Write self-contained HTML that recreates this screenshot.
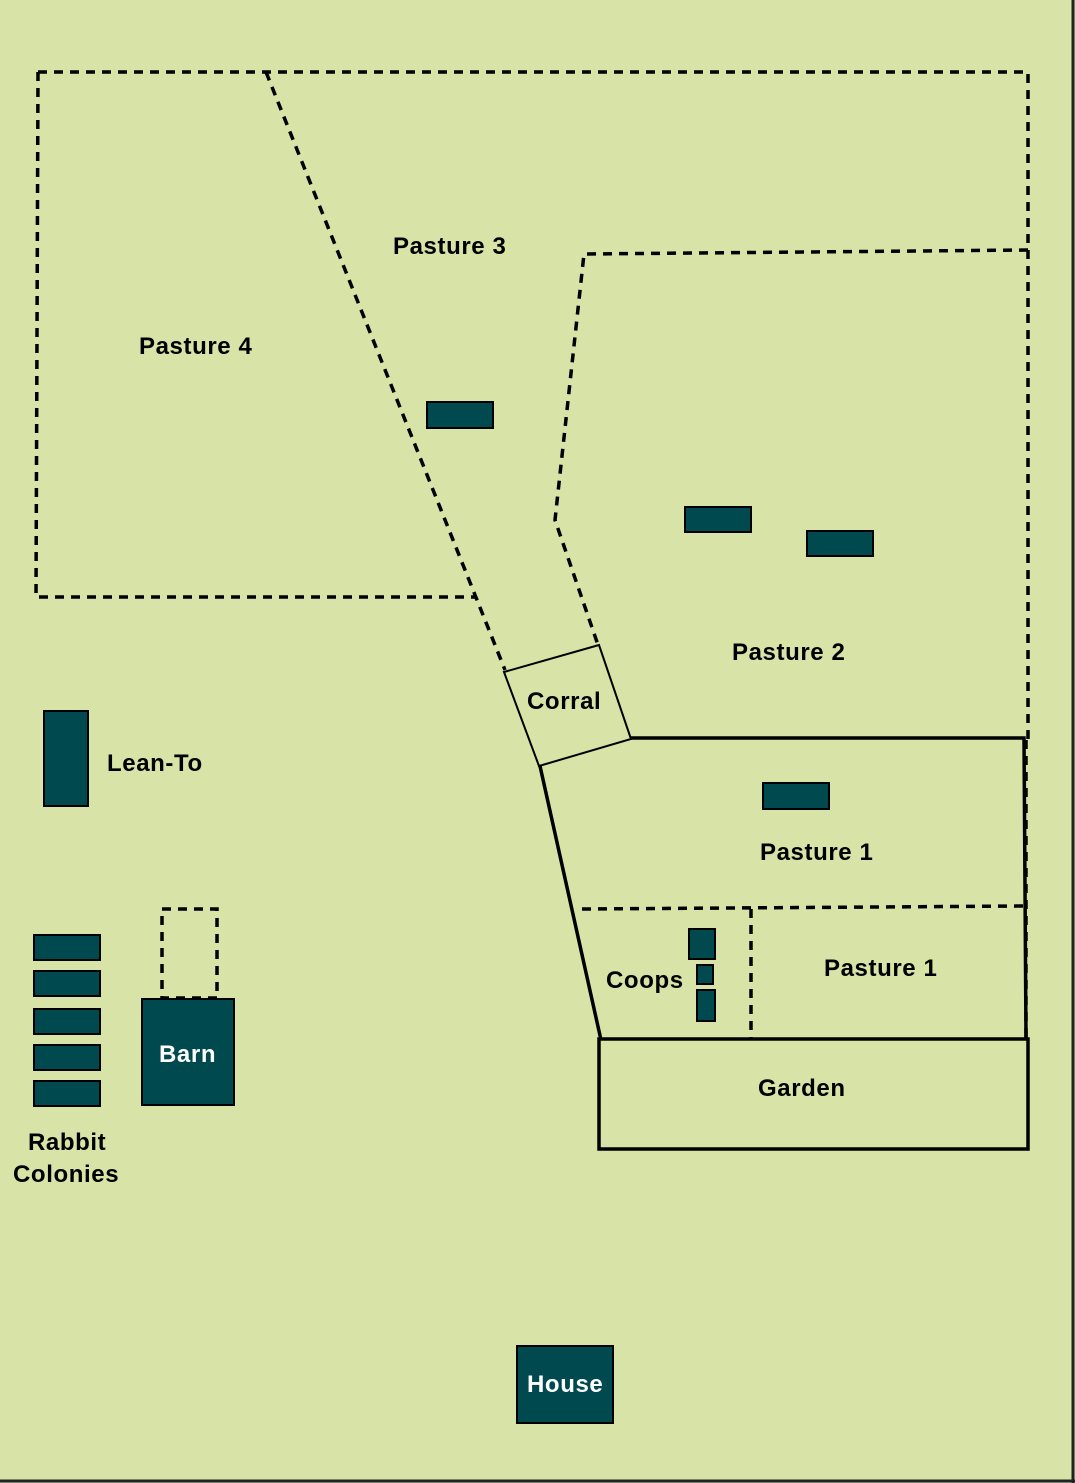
<!DOCTYPE html>
<html><head><meta charset="utf-8"><style>
html,body{margin:0;padding:0;background:#d7e3a7;}
svg{display:block}
text{font-family:"Liberation Sans",Arial,sans-serif;font-weight:bold;font-size:24px;letter-spacing:0.6px;fill:#000}
</style></head><body>
<svg width="1075" height="1483" viewBox="0 0 1075 1483" xmlns="http://www.w3.org/2000/svg">
<rect x="0" y="0" width="1075" height="1483" fill="#d7e3a7"/>
<line x1="1073" y1="0" x2="1073" y2="1483" stroke="#222" stroke-width="3"/>
<line x1="0" y1="1481" x2="1075" y2="1481" stroke="#222" stroke-width="3"/>
<g fill="none" stroke="#000" stroke-width="3.5" stroke-dasharray="9,7">
<polyline points="38,72 1028,72 1028,740"/>
<polyline points="38,72 36,597 476,597"/>
<polyline points="266,72 505,670"/>
<polyline points="1028,250 584,254 555,520 598,645"/>
<polyline points="582,909 1025,906"/>
<line x1="751" y1="909" x2="751" y2="1038"/>
<line x1="1026" y1="740" x2="1026" y2="1038"/>
<rect x="162" y="909" width="55" height="89"/>
</g>
<g fill="none" stroke="#000" stroke-width="2">
<polygon points="504,672 599,645 631,739 539,766"/>
</g>
<g fill="none" stroke="#000" stroke-width="3.5">
<polyline points="631,738 1024,738 1026,1038"/>
<line x1="540" y1="766" x2="601" y2="1040"/>
<rect x="599" y="1039" width="429" height="110"/>
</g>
<g fill="#004a4f" stroke="#000" stroke-width="2">
<rect x="427" y="402" width="66" height="26"/>
<rect x="685" y="507" width="66" height="25"/>
<rect x="807" y="531" width="66" height="25"/>
<rect x="763" y="783" width="66" height="26"/>
<rect x="44" y="711" width="44" height="95"/>
<rect x="34" y="935" width="66" height="25"/>
<rect x="34" y="971" width="66" height="25"/>
<rect x="34" y="1009" width="66" height="25"/>
<rect x="34" y="1045" width="66" height="25"/>
<rect x="34" y="1081" width="66" height="25"/>
<rect x="142" y="999" width="92" height="106"/>
<rect x="689" y="929" width="26" height="30"/>
<rect x="697" y="965" width="16" height="19"/>
<rect x="697" y="990" width="18" height="31"/>
<rect x="517" y="1346" width="96" height="77"/>
</g>
<text x="393" y="254">Pasture 3</text>
<text x="139" y="354">Pasture 4</text>
<text x="732" y="660">Pasture 2</text>
<text x="527" y="709">Corral</text>
<text x="107" y="771">Lean-To</text>
<text x="760" y="860">Pasture 1</text>
<text x="824" y="976">Pasture 1</text>
<text x="606" y="988">Coops</text>
<text x="758" y="1096">Garden</text>
<text x="159" y="1062" style="fill:#fff">Barn</text>
<text x="28" y="1150">Rabbit</text>
<text x="13" y="1182">Colonies</text>
<text x="527" y="1392" style="fill:#fff">House</text>
</svg>
</body></html>
